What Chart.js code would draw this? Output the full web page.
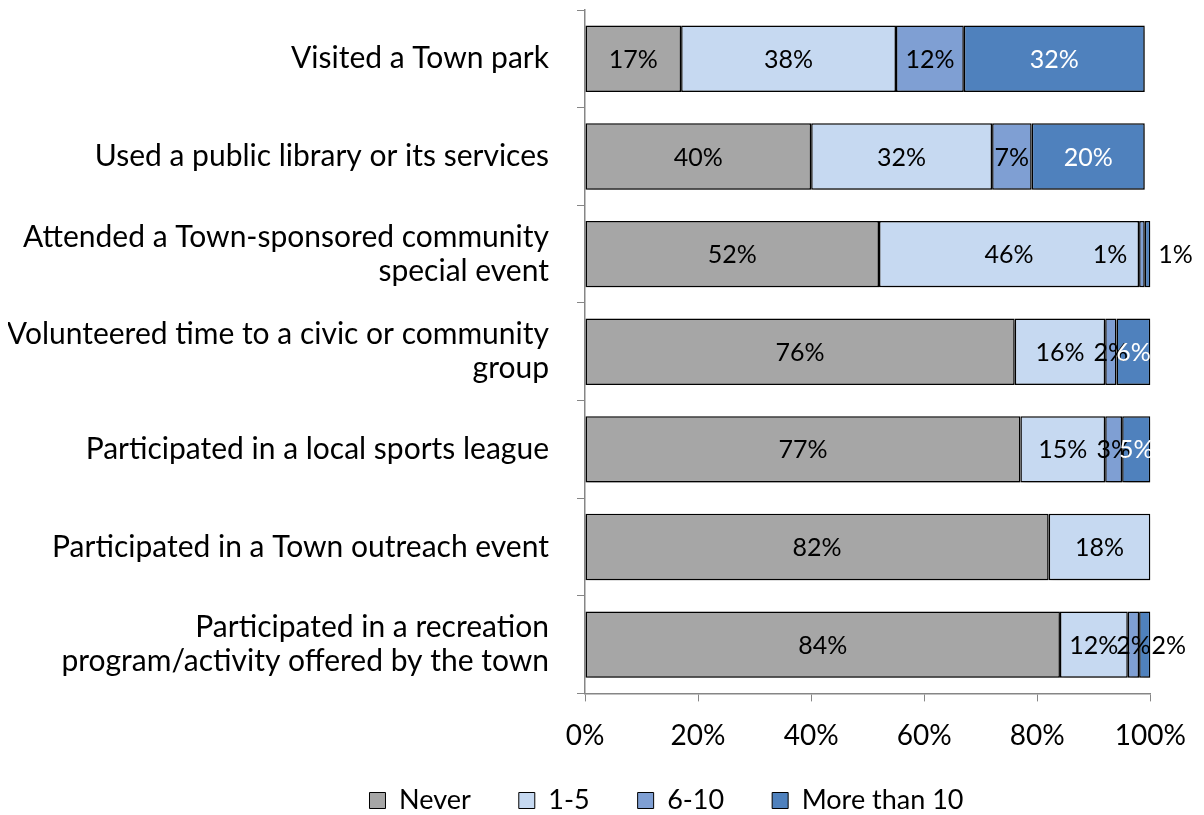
<!DOCTYPE html>
<html>
<head>
<meta charset="utf-8">
<script src="https://cdn.jsdelivr.net/npm/chart.js@4"></script>
<style>
  html, body { margin: 0; padding: 0; background: #fff; }
  #wrap { width: 1204px; height: 815px; }
</style>
</head>
<body>
<div id="wrap"><canvas id="activityChart" width="1204" height="815"></canvas></div>
<script>
// Kategori aktivitas (baris) dan seri frekuensi
const activities = [
  'Visited a Town park',
  'Used a public library or its services',
  ['Attended a Town-sponsored community', 'special event'],
  ['Volunteered time to a civic or community', 'group'],
  'Participated in a local sports league',
  'Participated in a Town outreach event',
  ['Participated in a recreation', 'program/activity offered by the town']
];
const seriesNames = ['Never', '1-5', '6-10', 'More than 10'];
const never      = [17, 40, 52, 76, 77, 82, 84];
const oneToFive  = [38, 32, 46, 16, 15, 18, 12];
const sixToTen   = [12,  7,  1,  2,  3,  0,  2];
const moreThan10 = [32, 20,  1,  6,  5,  0,  2];
const xTicks = [0, 20, 40, 60, 80, 100];

const colors = ['#a6a6a6', '#c6d9f1', '#7f9fd3', '#4f81bd'];
const labelColors = ['#000', '#000', '#000', '#fff'];
// Label kecil yang digeser supaya tidak bertumpuk (dataset:index -> dx)
const labelNudge = {
  '2:2': { dx: -32, color: '#000' },
  '3:2': { dx: 28, color: '#000' },
  '3:6': { dx: 24, color: '#000' }
};

const FONT = 'Lato, Calibri, sans-serif';

// Bayangan tipis di bawah batang
const barShadow = {
  id: 'barShadow',
  beforeDatasetsDraw(chart) {
    const c = chart.ctx;
    c.save();
    c.shadowColor = 'rgba(0,0,0,0.35)';
    c.shadowBlur = 5;
    c.shadowOffsetX = 2;
    c.shadowOffsetY = 3;
  },
  afterDatasetsDraw(chart) {
    chart.ctx.restore();
  }
};

// Menulis persentase di tengah tiap segmen
const segmentLabels = {
  id: 'segmentLabels',
  afterDatasetsDraw(chart) {
    const c = chart.ctx;
    c.save();
    c.font = '25px ' + FONT;
    c.textAlign = 'center';
    c.textBaseline = 'middle';
    chart.data.datasets.forEach((ds, di) => {
      const meta = chart.getDatasetMeta(di);
      meta.data.forEach((bar, i) => {
        const v = ds.data[i];
        if (!v) return;
        const nudge = labelNudge[di + ':' + i];
        let x = (bar.x + bar.base) / 2;
        c.fillStyle = labelColors[di];
        if (nudge) {
          x += nudge.dx;
          c.fillStyle = nudge.color;
        }
        c.fillText(v + '%', x, bar.y + 1);
      });
    });
    c.restore();
  }
};

// Posisi legenda: sedikit ke kanan dan ke atas
const legendShift = {
  id: 'legendShift',
  afterLayout(chart) {
    const lg = chart.legend;
    lg.left += 87;
    lg.right += 87;
    lg.top -= 32;
    lg.bottom -= 32;
  }
};

const ctx = document.getElementById('activityChart').getContext('2d');
const activityChart = new Chart(ctx, {
  type: 'bar',
  data: {
    labels: activities,
    datasets: [never, oneToFive, sixToTen, moreThan10].map((vals, k) => ({
      label: seriesNames[k],
      data: vals,
      backgroundColor: colors[k],
      borderColor: '#000',
      borderWidth: 1.5,
      borderSkipped: false,
      categoryPercentage: 1,
      barPercentage: 0.68
    }))
  },
  options: {
    indexAxis: 'y',
    responsive: false,
    animation: false,
    layout: { padding: { left: 8, right: 53, top: 10, bottom: -41 } },
    scales: {
      x: {
        stacked: true,
        min: 0,
        max: 100,
        afterBuildTicks(scale) {
          scale.ticks = xTicks.map(v => ({ value: v }));
        },
        grid: { drawOnChartArea: false, color: '#868686', tickLength: 8 },
        border: { color: '#868686', width: 1.5 },
        ticks: {
          color: '#000',
          font: { family: FONT, size: 28 },
          padding: 18,
          maxRotation: 0,
          callback: v => v + '%'
        }
      },
      y: {
        stacked: true,
        afterFit(scale) {
          scale.width = 577;
          scale.paddingTop = 0;
          scale.paddingBottom = 0;
        },
        grid: { drawOnChartArea: false, offset: true, color: '#868686', tickLength: 8 },
        border: { color: '#868686', width: 1.5 },
        ticks: {
          color: '#000',
          font: { family: FONT, size: 30, lineHeight: 1.13 },
          padding: 28
        }
      }
    },
    plugins: {
      tooltip: { enabled: false },
      legend: {
        position: 'bottom',
        labels: {
          color: '#000',
          font: { family: FONT, size: 27 },
          boxWidth: 16,
          boxHeight: 16,
          padding: 48,
          generateLabels(chart) {
            return chart.data.datasets.map((ds, i) => ({
              text: ds.label,
              fillStyle: ds.backgroundColor,
              strokeStyle: '#000',
              lineWidth: 1,
              datasetIndex: i,
              fontColor: '#000'
            }));
          }
        }
      }
    }
  },
  plugins: [barShadow, segmentLabels, legendShift]
});
</script>
</body>
</html>
